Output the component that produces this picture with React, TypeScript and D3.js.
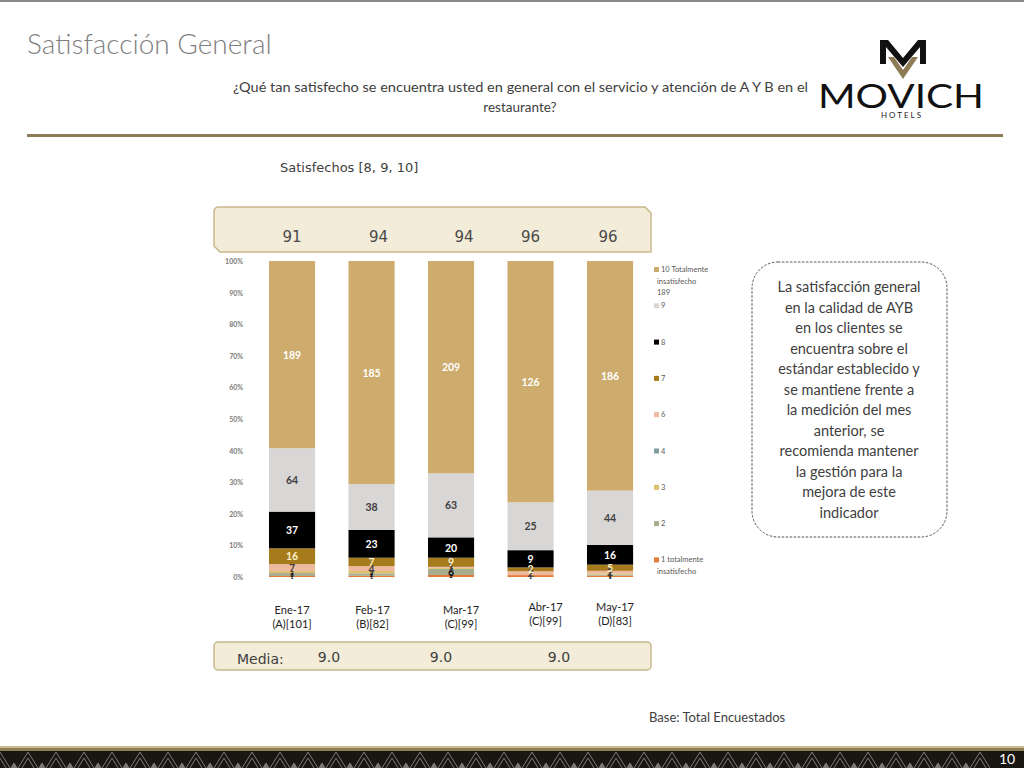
import * as d3 from 'd3';

const months = ['Ene-17', 'Feb-17', 'Mar-17', 'Abr-17', 'May-17'];
const bases = ['(A)[101]', '(B)[82]', '(C)[99]', '(C)[99]', '(D)[83]'];
const satisfied = [91, 94, 94, 96, 96];
const means = ['9.0', '9.0', '9.0'];

// counts per answer, one entry per month
const r10 = [189, 185, 209, 126, 186];
const r9 = [64, 38, 63, 25, 44];
const r8 = [37, 23, 20, 9, 16];
const r7 = [16, 7, 9, 2, 5];
const r6 = [7, 4, 1, 2, 2];
const r4 = [0, 0, 0, 0, 0];
const r3 = [2, 2, 1, 0, 1];
const r2 = [3, 2, 6, 0, 1];
const r1 = [1, 1, 2, 1, 1];

const keys = ['1', '2', '3', '4', '6', '7', '8', '9', '10'];
const legendNames = ['1 totalmente|insatisfecho', '2', '3', '4', '6', '7', '8', '9', '10 Totalmente|insatisfecho|189'];
const colors = ['#e07b39', '#a9ad8f', '#dcc06e', '#7f9c9e', '#efb9a0', '#a67b1c', '#000000', '#d9d6d6', '#cdac6e'];
const labelColors = ['#111', '#111', '#111', '#111', '#404040', '#fff0c8', '#ffffff', '#404040', '#ffffff'];
const yTicks = [0, 0.1, 0.2, 0.3, 0.4, 0.5, 0.6, 0.7, 0.8, 0.9, 1];

const boxLines = [
  'La satisfacción general',
  'en la calidad de AYB',
  'en los clientes se',
  'encuentra sobre el',
  'estándar establecido y',
  'se mantiene frente a',
  'la medición del mes',
  'anterior, se',
  'recomienda mantener',
  'la gestión para la',
  'mejora de este',
  'indicador',
];

const rows = months.map((m, i) => ({
  month: m,
  '1': r1[i], '2': r2[i], '3': r3[i], '4': r4[i], '6': r6[i],
  '7': r7[i], '8': r8[i], '9': r9[i], '10': r10[i],
}));

const font = "Lato, 'Open Sans', sans-serif";
const gothic = "'DejaVu Sans', Lato, sans-serif";

const x = d3.scaleBand().domain(months).range([252.3, 649.8]).paddingInner(0.42).paddingOuter(0.21);
const y = d3.scaleLinear().domain([0, 1]).range([577, 261]);
const stack = d3.stack<any>().keys(keys).offset(d3.stackOffsetExpand);
const series = stack(rows);
const mid = (m: string) => (x(m) || 0) + x.bandwidth() / 2;

const BottomBand = () => {
  const xs = d3.range(0, 1040, 28);
  return (
    <g>
      <rect x={0} y={746} width={1024} height={2} fill="#c8bb94" />
      <rect x={0} y={748} width={1024} height={3} fill="#8f7f55" />
      <rect x={0} y={751} width={1024} height={17} fill="#1a1712" />
      {xs.map((px) => (
        <g key={px} fill="none" stroke="#7a7a7a" strokeWidth={1}>
          <path d={`M${px - 10},768 L${px},752 L${px + 10},768`} />
          <path d={`M${px - 6},768 L${px},758 L${px + 6},768`} />
          <path d={`M${px + 11},768 L${px + 14},763 L${px + 17},768`} fill="#7a7a7a" />
        </g>
      ))}
      <rect x={990} y={751} width={34} height={17} fill="#1a1712" />
      <text x={1007} y={764} textAnchor="middle" fontFamily={font} fontSize={14} fill="#fff">10</text>
    </g>
  );
};

const Logo = () => (
  <g>
    <path d="M880,40 L888,40 L903,58 L918,40 L926,40 L903,67 Z" fill="#111" />
    <path d="M880,40 L886,40 L886,64 L880,64 Z" fill="#111" />
    <path d="M920,40 L926,40 L926,64 L920,64 Z" fill="#111" />
    <path d="M888,57 L894,57 L903,70 L912,57 L918,57 L903,79 Z" fill="#8c7b55" />
    <text x={818} y={108} textLength={166} lengthAdjust="spacingAndGlyphs" fontFamily={font} fontSize={33} fontWeight={400} fill="#111">MOVICH</text>
    <text x={902} y={118} textAnchor="middle" fontFamily={font} fontSize={8} letterSpacing={2} fill="#222">HOTELS</text>
  </g>
);

export default function App() {
  return (
    <svg width={1024} height={768} style={{ position: 'absolute', left: 0, top: 0, background: '#fff' }}>
      <rect x={0} y={0} width={1024} height={2} fill="#8a8a8a" />
      <text x={27} y={54} fontFamily={font} fontWeight={300} fontSize={28} fill="#7f7f7f">Satisfacción General</text>
      <text x={233} y={92} textLength={575} lengthAdjust="spacingAndGlyphs" fontFamily={font} fontSize={13.5} fill="#404040">¿Qué tan satisfecho se encuentra usted en general con el servicio y atención de A Y B en el</text>
      <text x={520} y={112} textAnchor="middle" fontFamily={font} fontSize={13.5} fill="#404040">restaurante?</text>
      <Logo />
      <rect x={27} y={134} width={976} height={3} fill="#8b7d55" />

      <text x={280} y={172} fontFamily={gothic} fontSize={13} fill="#404040">Satisfechos [8, 9, 10]</text>

      <path d="M219,207 L645,207 L651,213 L651,252 L220,252 L214,246 L214,212 Q214,207 219,207 Z" fill="#f2ecd8" stroke="#c9b78c" strokeWidth={1.5} />
      {satisfied.map((v, i) => (
        <text key={i} x={mid(months[i]) + [0, 7, 13, 0, -2][i]} y={242} textAnchor="middle" fontFamily={gothic} fontSize={15} fill="#4a4a4a">{v}</text>
      ))}

      {yTicks.map((t) => (
        <text key={t} x={243} y={y(t) + 3} textAnchor="end" fontFamily={font} fontSize={7} fontWeight={700} fill="#7a7a7a">{`${Math.round(t * 100)}%`}</text>
      ))}

      {series.map((s, si) => (
        <g key={s.key} fill={colors[si]}>
          {s.map((d, i) => (
            <rect key={i} x={x(months[i])} y={y(d[1])} width={x.bandwidth()} height={Math.max(0, y(d[0]) - y(d[1]))} />
          ))}
        </g>
      ))}
      {series.map((s, si) => (
        <g key={'l' + s.key}>
          {s.map((d, i) => {
            const v = (rows[i] as any)[s.key];
            if (!v) return null;
            const big = v >= 5 || si >= 4;
            return (
              <text key={i} x={mid(months[i])} y={(y(d[0]) + y(d[1])) / 2 + (big ? 4 : 2.5)}
                textAnchor="middle" fontFamily={font} fontWeight={700} fontSize={big ? 10.5 : 6} fill={labelColors[si]}>{v}</text>
            );
          })}
        </g>
      ))}

      {legendNames.map((name, k) => {
        const idx = keys.length - 1 - k;
        const ly = 272 + k * 36.3;
        const lines = legendNames[idx].split('|');
        return (
          <g key={name}>
            <rect x={654} y={ly - 5} width={5} height={5} fill={colors[idx]} />
            {lines.map((ln, j) => (
              <text key={j} x={j === 0 ? 661 : 657} y={ly + j * 11.5} fontFamily={font} fontSize={7.5} fill="#595959">{ln}</text>
            ))}
          </g>
        );
      })}

      {months.map((m, i) => {
        const cx = mid(m) + [0, 1, 10, 15, 5][i];
        const dy = i >= 3 ? -3 : 0;
        return (
          <g key={m} fontFamily={font} fontSize={11} fill="#222" textAnchor="middle">
            <text x={cx} y={614 + dy}>{m}</text>
            <text x={cx} y={628 + dy}>{bases[i]}</text>
          </g>
        );
      })}

      <rect x={214} y={642} width={437} height={28} rx={4} fill="#f2ecd8" stroke="#c9b78c" strokeWidth={1.5} />
      <text x={237} y={664} fontFamily={gothic} fontSize={14} fill="#404040">Media:</text>
      {means.map((v, i) => (
        <text key={i} x={[329, 441, 559][i]} y={662} textAnchor="middle" fontFamily={gothic} fontSize={14} fill="#404040">{v}</text>
      ))}

      <rect x={752} y={262} width={195} height={275} rx={26} fill="none" stroke="#555" strokeWidth={1} strokeDasharray="2.5,1.5" />
      {boxLines.map((ln, i) => (
        <text key={i} x={849} y={292 + i * 20.5} textAnchor="middle" fontFamily={font} fontSize={14.5} fill="#404040">{ln}</text>
      ))}

      <text x={649} y={722} fontFamily={font} fontSize={13} fill="#404040">Base: Total Encuestados</text>
      <BottomBand />
    </svg>
  );
}
